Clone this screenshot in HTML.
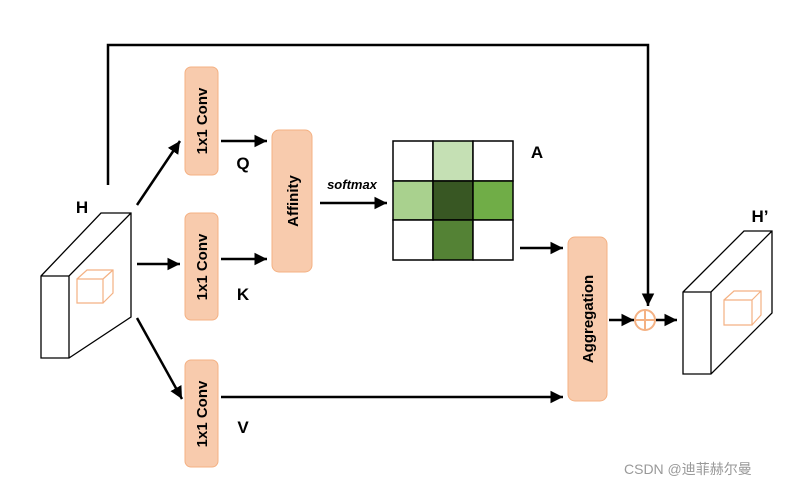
<!DOCTYPE html>
<html><head><meta charset="utf-8"><style>
body{margin:0;background:#fff;width:809px;height:488px;overflow:hidden;font-family:"Liberation Sans","Noto Sans CJK SC",sans-serif}
</style></head><body>
<svg width="809" height="488" xmlns="http://www.w3.org/2000/svg" font-family="Liberation Sans, sans-serif">
<defs><marker id="a" markerWidth="6" markerHeight="6" refX="5" refY="3" orient="auto" markerUnits="strokeWidth"><path d="M0,0.5 L5,3 L0,5.5z" fill="#000"/></marker></defs>
<g fill="none" stroke="#000" stroke-width="1.3">
<path d="M41,276 L101,213 L131,213 L131,317 L69,358 L41,358Z M41,276 L69,276 L131,213 M69,276 L69,358"/>
<path d="M683,292 L744,231 L772,231 L772,313 L711,374 L683,374Z M683,292 L711,292 L772,231 M711,292 L711,374"/>
</g>
<g fill="none" stroke="#f4b183" stroke-width="1.2">
<path d="M77,279 L103,279 L103,303 L77,303Z M77,279 L87,270 L113,270 L113,293 L103,303 M103,279 L113,270"/>
<path d="M724,300 L752,300 L752,325 L724,325Z M724,300 L734,291 L761,291 L761,315 L752,325 M752,300 L761,291"/>
</g>
<g fill="#f8cbad" stroke="#f4b183" stroke-width="1">
<rect x="185" y="67" width="33" height="108" rx="6"/>
<rect x="185" y="213" width="33" height="107" rx="6"/>
<rect x="185" y="360" width="33" height="107" rx="6"/>
<rect x="272" y="130" width="40" height="142" rx="7"/>
<rect x="568" y="237" width="39" height="164" rx="7"/>
</g>
<g font-weight="bold" font-size="15" fill="#000" text-anchor="middle">
<text transform="translate(207,121) rotate(-90)">1x1 Conv</text>
<text transform="translate(207,267) rotate(-90)">1x1 Conv</text>
<text transform="translate(207,414) rotate(-90)">1x1 Conv</text>
<text transform="translate(298,201) rotate(-90)">Affinity</text>
<text transform="translate(593,319) rotate(-90)">Aggregation</text>
<text x="82" y="213" font-size="17">H</text>
<text x="243" y="169" font-size="17">Q</text>
<text x="243" y="300" font-size="17">K</text>
<text x="243" y="433" font-size="17">V</text>
<text x="537" y="158" font-size="17">A</text>
<text x="760" y="222" font-size="17">H’</text>
<text x="352" y="189" font-size="13" font-style="italic">softmax</text>
</g>
<g stroke="#000" stroke-width="1.5">
<rect x="393" y="141" width="40" height="40" fill="#fff"/>
<rect x="433" y="141" width="40" height="40" fill="#c5e0b4"/>
<rect x="473" y="141" width="40" height="40" fill="#fff"/>
<rect x="393" y="181" width="40" height="39" fill="#a9d18e"/>
<rect x="433" y="181" width="40" height="39" fill="#385723"/>
<rect x="473" y="181" width="40" height="39" fill="#70ad47"/>
<rect x="393" y="220" width="40" height="40" fill="#fff"/>
<rect x="433" y="220" width="40" height="40" fill="#548235"/>
<rect x="473" y="220" width="40" height="40" fill="#fff"/>
</g>
<g stroke="#000" stroke-width="2.5" fill="none" marker-end="url(#a)">
<path d="M108,185 L108,45 L648,45 L648,306"/>
<path d="M137,205 L180,141"/>
<path d="M137,264 L180,264"/>
<path d="M137,318 L182,399"/>
<path d="M221,141 L267,141"/>
<path d="M221,259 L267,259"/>
<path d="M320,203 L387,203"/>
<path d="M520,248 L563,248"/>
<path d="M221,397 L563,397"/>
<path d="M609,320 L634,320"/>
<path d="M656,320 L677,320"/>
</g>
<circle cx="645" cy="320" r="10" fill="#fff" stroke="#f4b183" stroke-width="2"/>
<path d="M635,320 L655,320 M645,310 L645,330" stroke="#f4b183" stroke-width="2"/>
<text x="624" y="474" font-size="14" fill="#999" font-family="Liberation Sans, Noto Sans CJK SC, sans-serif">CSDN @迪菲赫尔曼</text>
</svg>
</body></html>
